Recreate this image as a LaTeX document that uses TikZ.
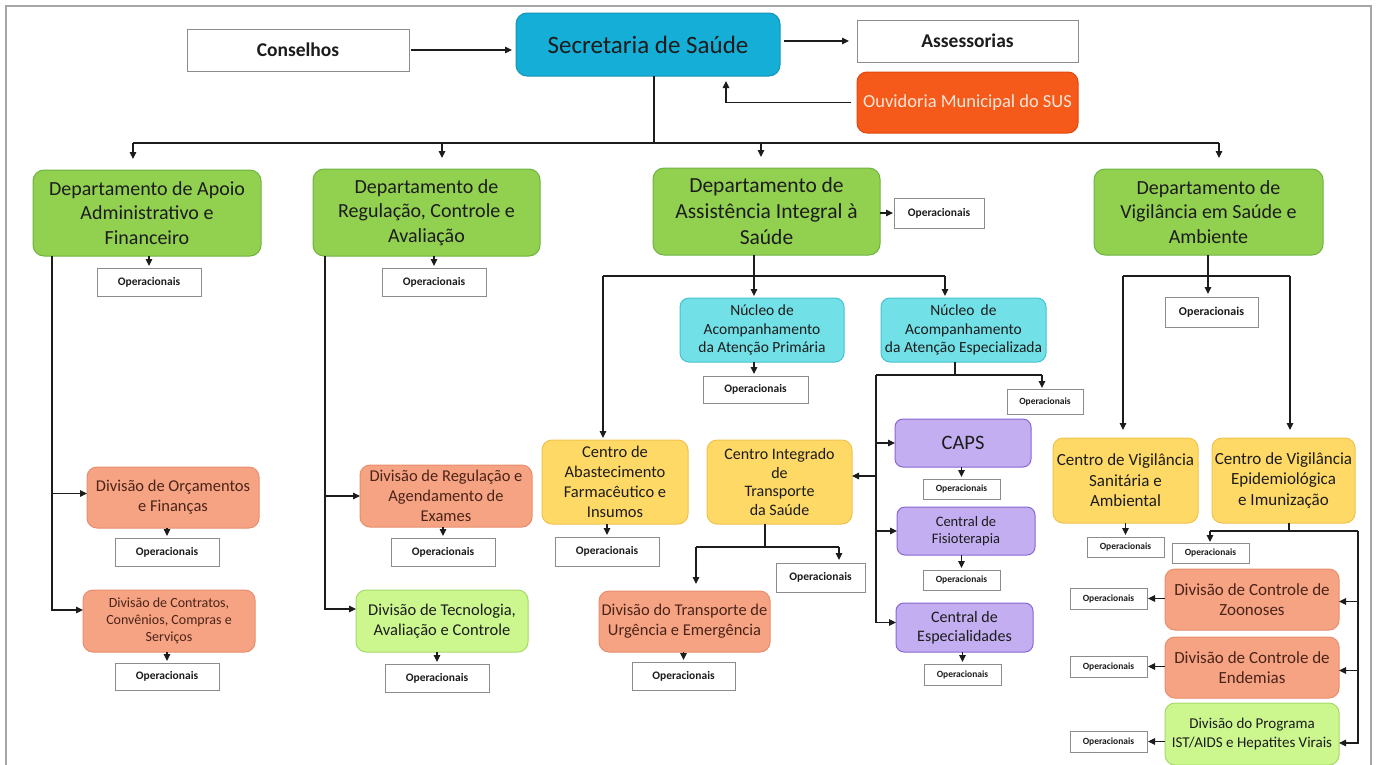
\documentclass[tikz,border=0pt]{standalone}
\usepackage{fontspec}
\setmainfont{Carlito}
\usetikzlibrary{arrows.meta}

\definecolor{secfill}{HTML}{15AED6}
\definecolor{secdraw}{HTML}{1592B6}
\definecolor{ouvfill}{HTML}{F55A1B}
\definecolor{ouvdraw}{HTML}{E2470F}
\definecolor{ouvtext}{HTML}{FDE6D8}
\definecolor{deptfill}{HTML}{92D050}
\definecolor{deptdraw}{HTML}{6DB33F}
\definecolor{nucfill}{HTML}{71E0E7}
\definecolor{nucdraw}{HTML}{45C3D1}
\definecolor{yelfill}{HTML}{FFD966}
\definecolor{yeldraw}{HTML}{F0C24C}
\definecolor{salfill}{HTML}{F6A384}
\definecolor{saldraw}{HTML}{E98D6D}
\definecolor{saltext}{HTML}{4A2418}
\definecolor{purfill}{HTML}{C2AEF1}
\definecolor{purdraw}{HTML}{8A66D2}
\definecolor{limefill}{HTML}{CCF78F}
\definecolor{limedraw}{HTML}{A6DA6A}
\definecolor{opdraw}{HTML}{8C8C8C}
\definecolor{framegray}{HTML}{A6A6A6}
\definecolor{ink}{HTML}{1C1C1C}

\tikzset{
  box/.style={draw, line width=1pt, align=center, inner sep=0pt, outer sep=0pt, text=ink},
  opbox/.style={box, draw=opdraw, fill=white, font=\bfseries\fontsize{11.5}{13}\selectfont},
  opsmall/.style={opbox, font=\bfseries\fontsize{9.5}{11}\selectfont},
  headbox/.style={opbox, font=\bfseries\fontsize{19.5}{22}\selectfont},
  secbox/.style={box, fill=secfill, draw=secdraw, rounded corners=11pt, font=\fontsize{25}{28}\selectfont},
  ouvbox/.style={box, fill=ouvfill, draw=ouvdraw, rounded corners=10pt, text=ouvtext, font=\fontsize{18.5}{21}\selectfont},
  deptbox/.style={box, fill=deptfill, draw=deptdraw, rounded corners=11pt, font=\fontsize{20}{24.5}\selectfont},
  nucbox/.style={box, fill=nucfill, draw=nucdraw, rounded corners=9pt, font=\fontsize{15.5}{18.3}\selectfont},
  yelbox/.style={box, fill=yelfill, draw=yeldraw, rounded corners=10pt, font=\fontsize{16.5}{20}\selectfont},
  salbox/.style={box, fill=salfill, draw=saldraw, rounded corners=10pt, text=saltext, font=\fontsize{16.5}{20}\selectfont},
  purbox/.style={box, fill=purfill, draw=purdraw, rounded corners=8pt, font=\fontsize{16}{18.5}\selectfont},
  limebox/.style={box, fill=limefill, draw=limedraw, rounded corners=10pt, font=\fontsize{16.5}{20}\selectfont},
  conn/.style={draw=ink, line width=1.1pt},
  arr/.style={conn, -{Triangle[length=7pt,width=6.5pt]}},
}

% box given by its left, top, right and bottom edges
\newcommand\orgnode[7]{%
  \pgfmathsetmacro\orgw{#4-#2}%
  \pgfmathsetmacro\orgh{#5-#3}%
  \node[#6, minimum width=\orgw pt, minimum height=\orgh pt] (#1) at ({(#2+#4)/2},{(#3+#5)/2}) {#7};}

\begin{document}
\begin{tikzpicture}[x=1pt, y=-1pt]
\useasboundingbox (0,0) rectangle (1376,764);
\fill[white] (0,0) rectangle (1376,764);
\draw[framegray, line width=1.3pt] (6,6) rectangle (1371,800);

% top level
\orgnode{cons}{187}{29}{409}{71}{headbox}{Conselhos}
\orgnode{sec}{516}{13}{780}{76}{secbox}{Secretaria de Saúde}
\orgnode{asse}{857}{20}{1078}{62}{headbox}{Assessorias}
\orgnode{ouv}{857}{72}{1078}{133}{ouvbox}{Ouvidoria Municipal do SUS}

% departments
\orgnode{d1}{33}{170}{261}{256}{deptbox}{Departamento de Apoio\\Administrativo e\\Financeiro}
\orgnode{d2}{313}{169}{540}{256}{deptbox}{Departamento de\\Regulação, Controle e\\Avaliação}
\orgnode{d3}{653}{168}{880}{255}{deptbox, font=\fontsize{21.5}{26}\selectfont}{Departamento de\\Assistência Integral à\\Saúde}
\orgnode{d4}{1094}{169}{1323}{255}{deptbox}{Departamento de\\Vigilância em Saúde e\\Ambiente}

\orgnode{op1}{97}{268}{201}{296}{opbox}{Operacionais}
\orgnode{op2}{382}{268}{486}{296}{opbox}{Operacionais}
\orgnode{op3}{894}{198}{984}{228}{opbox}{Operacionais}
\orgnode{op4}{1165}{297}{1258}{327}{opbox, font=\bfseries\fontsize{12}{14}\selectfont}{Operacionais}

% administrative branch
\orgnode{dorc}{87}{467}{259}{528}{salbox}{Divisão de Orçamentos\\e Finanças}
\orgnode{oporc}{115}{538}{219}{566}{opbox}{Operacionais}
\orgnode{dcon}{83}{590}{255}{652}{salbox, font=\fontsize{14}{17}\selectfont}{Divisão de Contratos,\\Convênios, Compras e\\Serviços}
\orgnode{opcon}{115}{663}{219}{690}{opbox}{Operacionais}

% regulation branch
\orgnode{dreg}{360}{465}{532}{527}{salbox}{Divisão de Regulação e\\Agendamento de\\Exames}
\orgnode{opreg}{391}{538}{495}{566}{opbox}{Operacionais}
\orgnode{dtec}{356}{590}{528}{652}{limebox}{Divisão de Tecnologia,\\Avaliação e Controle}
\orgnode{optec}{385}{664}{489}{692}{opbox}{Operacionais}

% integral care branch
\orgnode{nprim}{680}{298}{844}{362}{nucbox}{Núcleo de\\Acompanhamento\\da Atenção Primária}
\orgnode{opprim}{703}{376}{808}{403}{opbox}{Operacionais}
\orgnode{nesp}{881}{298}{1046}{362}{nucbox}{Núcleo \,de\\Acompanhamento\\da Atenção Especializada}
\orgnode{opesp}{1007}{389}{1083}{414}{opsmall}{Operacionais}

\orgnode{cabast}{542}{440}{688}{524}{yelbox}{Centro de\\Abastecimento\\Farmacêutico e\\Insumos}
\orgnode{opabast}{555}{537}{659}{566}{opbox}{Operacionais}
\orgnode{cint}{707}{440}{852}{524}{yelbox, font=\fontsize{16}{18.7}\selectfont}{Centro Integrado\\de\\Transporte\\da Saúde}
\orgnode{opint}{776}{563}{865}{592}{opbox}{Operacionais}
\orgnode{dtra}{599}{591}{770}{652}{salbox}{Divisão do Transporte de\\Urgência e Emergência}
\orgnode{optra}{632}{662}{735}{690}{opbox}{Operacionais}

\orgnode{caps}{895}{419}{1031}{467}{purbox, font=\fontsize{20.5}{23}\selectfont}{CAPS}
\orgnode{opcaps}{923}{479}{1000}{499}{opsmall}{Operacionais}
\orgnode{fisio}{897}{507}{1035}{555}{purbox, font=\fontsize{14.5}{17.3}\selectfont}{Central de\\Fisioterapia}
\orgnode{opfisio}{923}{570}{1000}{590}{opsmall}{Operacionais}
\orgnode{espec}{896}{603}{1033}{652}{purbox}{Central de\\Especialidades}
\orgnode{opespec}{924}{664}{1001}{685}{opsmall}{Operacionais}

% surveillance branch
\orgnode{cvs}{1053}{438}{1198}{523}{yelbox, font=\fontsize{17}{20.5}\selectfont}{Centro de Vigilância\\Sanitária e\\Ambiental}
\orgnode{opcvs}{1087}{537}{1164}{557}{opsmall}{Operacionais}
\orgnode{cve}{1212}{438}{1355}{523}{yelbox, font=\fontsize{17}{20.5}\selectfont}{Centro de Vigilância\\Epidemiológica\\e Imunização}
\orgnode{opcve}{1172}{543}{1249}{563}{opsmall}{Operacionais}
\orgnode{dzoo}{1165}{569}{1339}{630}{salbox, font=\fontsize{17}{20}\selectfont}{Divisão de Controle de\\Zoonoses}
\orgnode{opzoo}{1070}{588}{1147}{609}{opsmall}{Operacionais}
\orgnode{dend}{1165}{637}{1339}{698}{salbox, font=\fontsize{17}{20}\selectfont}{Divisão de Controle de\\Endemias}
\orgnode{opend}{1070}{656}{1147}{677}{opsmall}{Operacionais}
\orgnode{dist}{1165}{703}{1339}{765}{limebox, font=\fontsize{15}{18.3}\selectfont}{Divisão do Programa\\IST/AIDS e Hepatites Virais}
\orgnode{opist}{1070}{731}{1147}{752}{opsmall}{Operacionais}

% connectors around the secretariat
\draw[arr, shorten <=2pt, shorten >=4pt] (cons.east) -- (cons.east -| sec.west);
\draw[arr, shorten <=4pt, shorten >=8pt] (sec.east |- asse.west) -- (asse.west);
\draw[arr, shorten <=6pt, shorten >=5pt] (ouv.west) -| ([xshift=78pt]sec.south);

% main distribution bus
\coordinate (hub) at (654,143);
\coordinate (busA) at (133,143);
\coordinate (busB) at (442,143);
\coordinate (busC) at (761,143);
\coordinate (busD) at (1219,143);
\draw[conn] (sec.south -| hub) -- (hub);
\draw[conn] (busA) -- (busD);
\draw[arr, shorten >=11pt] (busA) -- (busA |- d1.north);
\draw[arr, shorten >=11pt] (busB) -- (busB |- d2.north);
\draw[arr, shorten >=11pt] (busC) -- (busC |- d3.north);
\draw[arr, shorten >=11pt] (busD) -- (busD |- d4.north);

% department operational units
\draw[arr, shorten >=2pt] (op1.north |- d1.south) -- (op1.north);
\draw[arr, shorten >=2pt] (op2.north |- d2.south) -- (op2.north);
\draw[arr, shorten >=1pt] (d3.east |- op3.west) -- (op3.west);

% administrative divisions
\draw[arr] ([xshift=19pt]d1.south west) |- ([yshift=4pt]dorc.west);
\draw[arr] ([xshift=19pt]d1.south west) |- ([yshift=11pt]dcon.west);
\draw[arr, shorten >=2pt] (oporc.north |- dorc.south) -- (oporc.north);
\draw[arr, shorten >=2pt] (opcon.north |- dcon.south) -- (opcon.north);

% regulation divisions
\draw[arr] ([xshift=12pt]d2.south west) |- (dreg.west);
\draw[arr] ([xshift=12pt]d2.south west) |- ([yshift=12pt]dtec.west);
\draw[arr, shorten >=2pt] (opreg.north |- dreg.south) -- (opreg.north);
\draw[arr, shorten >=2pt] (optec.north |- dtec.south) -- (optec.north);

% integral care
\coordinate (j3) at (754,276);
\coordinate (j3L) at (603,276);
\coordinate (j3R) at (945,276);
\draw[conn] (d3.south -| j3) -- (j3);
\draw[conn] (j3L) -- (j3R);
\draw[arr, shorten >=2pt] (j3L) -- (j3L |- cabast.north);
\draw[arr, shorten >=2pt] (j3) -- (j3 |- nprim.north);
\draw[arr, shorten >=2pt] (j3R) -- (j3R |- nesp.north);
\draw[arr, shorten >=2pt] (nprim.south -| j3) -- (opprim.north -| j3);

\coordinate (j4) at (955,375);
\coordinate (j4L) at (876,375);
\coordinate (j4R) at (1042,375);
\draw[conn] (nesp.south -| j4) -- (j4);
\draw[conn] (j4L) -- (j4R);
\draw[arr, shorten >=1pt] (j4R) -- (j4R |- opesp.north);
\draw[arr] (j4L) |- (caps.west);
\draw[arr] (j4L) |- (fisio.west);
\draw[arr] (j4L) |- ([yshift=5pt]espec.west);
\draw[arr] (j4L |- cint.east) ++(0,-6) -- ([yshift=6pt]cint.east);
\draw[arr, shorten >=2pt] (opcaps.north |- caps.south) -- (opcaps.north);
\draw[arr, shorten >=2pt] (opfisio.north |- fisio.south) -- (opfisio.north);
\draw[arr, shorten >=2pt] (opespec.north |- espec.south) -- (opespec.north);

\draw[arr, shorten >=2pt] (opabast.north |- cabast.south) -- (opabast.north);
\coordinate (j5) at (765,547);
\coordinate (j5L) at (696,547);
\coordinate (j5R) at (839,547);
\draw[conn] (cint.south -| j5) -- (j5);
\draw[conn] (j5L) -- (j5R);
\draw[arr, shorten >=7pt] (j5L) -- (j5L |- dtra.north);
\draw[arr, shorten >=3pt] (j5R) -- (j5R |- opint.north);
\draw[arr, shorten >=2pt] (optra.north |- dtra.south) -- (optra.north);

% surveillance
\coordinate (j6) at (1208,276);
\coordinate (j6L) at (1123,276);
\coordinate (j6R) at (1290,276);
\draw[arr, shorten >=3pt] (d4.south -| j6) -- (j6 |- op4.north);
\draw[conn] (j6L) -- (j6R);
\draw[arr, shorten >=8pt] (j6L) -- (j6L |- cvs.north);
\draw[arr, shorten >=8pt] (j6R) -- (j6R |- cve.north);
\draw[arr, shorten >=2pt] (opcvs.north |- cvs.south) -- (opcvs.north);

\coordinate (j7) at (1289,531);
\coordinate (j7L) at (1210,531);
\coordinate (j7R) at (1358,531);
\draw[conn] (cve.south -| j7) -- (j7);
\draw[conn] (j7L) -- (j7R);
\draw[arr, shorten >=1pt] (j7L) -- (j7L |- opcve.north);
\draw[arr] (j7R) |- ([yshift=-2pt]dzoo.east);
\draw[arr] (j7R) |- ([yshift=-3pt]dend.east);
\draw[arr] (j7R) |- ([yshift=-9pt]dist.east);
\draw[arr, shorten >=1pt] (dzoo.west |- opzoo.east) -- (opzoo.east);
\draw[arr, shorten >=1pt] (dend.west |- opend.east) -- (opend.east);
\draw[arr, shorten >=1pt] (dist.west |- opist.east) -- (opist.east);
\end{tikzpicture}
\end{document}
